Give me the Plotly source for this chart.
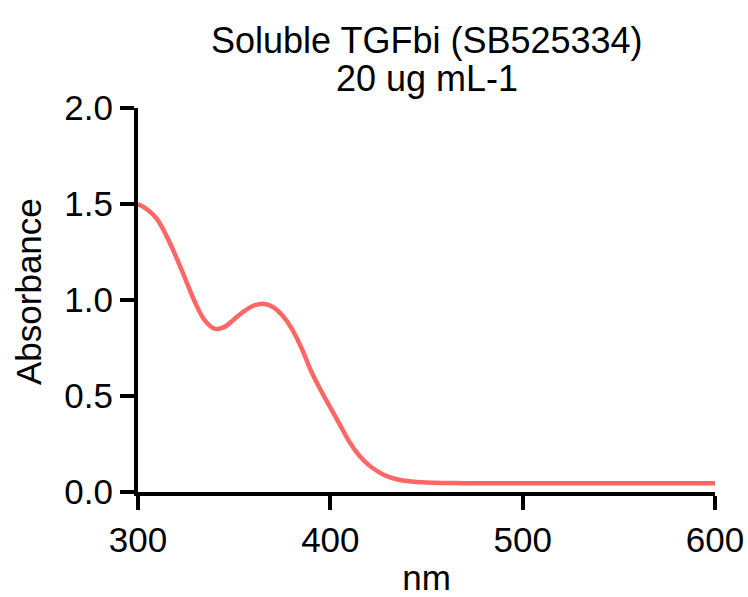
import plotly.graph_objects as go

# absorbance spectrum
wavelength = [300, 305, 310, 315, 320, 325, 330, 335, 340, 345, 350, 355, 360, 365,
              370, 375, 380, 385, 390, 395, 400, 405, 410, 415, 420, 425, 430, 435,
              440, 445, 450, 460, 470, 480, 490, 500, 510, 520, 530, 540, 550, 560,
              570, 580, 590, 600]
absorbance = [1.50, 1.47, 1.42, 1.33, 1.22, 1.10, 0.98, 0.89, 0.85, 0.86, 0.90, 0.94,
              0.97, 0.98, 0.965, 0.92, 0.85, 0.75, 0.63, 0.53, 0.44, 0.35, 0.26, 0.19,
              0.14, 0.105, 0.08, 0.065, 0.057, 0.052, 0.049, 0.047, 0.046, 0.046,
              0.045, 0.045, 0.045, 0.045, 0.045, 0.045, 0.045, 0.045, 0.045, 0.045,
              0.045, 0.045]

x_ticks = [300, 400, 500, 600]
y_ticks = [0.0, 0.5, 1.0, 1.5, 2.0]

font = "Liberation Sans, Arial, sans-serif"

W, H = 748, 597
left, right, top, bottom = 138, 33, 108, 105
plot_w = W - left - right
plot_h = H - top - bottom


def py(y_px):
    # pixel row from the top of the page -> paper y
    return 1 + (top - y_px) / plot_h


def px(x_px):
    return (x_px - left) / plot_w


fig = go.Figure(go.Scatter(x=wavelength, y=absorbance, mode="lines",
                           line=dict(color="#FF6666", width=4.5, shape="spline"),
                           cliponaxis=False))

fig.update_layout(
    width=W, height=H,
    margin=dict(l=left, r=right, t=top, b=bottom),
    plot_bgcolor="white", paper_bgcolor="white",
    showlegend=False,
    font=dict(family=font, size=35, color="black"),
    annotations=[
        dict(text="Soluble TGFbi (SB525334)", x=0.5, y=py(40),
             xref="paper", yref="paper", showarrow=False, yanchor="middle",
             font=dict(size=36)),
        dict(text="20 ug mL-1", x=0.5, y=py(78),
             xref="paper", yref="paper", showarrow=False, yanchor="middle",
             font=dict(size=36)),
        dict(text="Absorbance", x=px(28), y=py(292), textangle=-90,
             xref="paper", yref="paper", showarrow=False,
             xanchor="center", yanchor="middle", font=dict(size=35)),
    ],
)

fig.update_xaxes(range=[300, 600], tickvals=x_ticks, ticktext=[str(t) for t in x_ticks],
                 showline=True, linecolor="black", linewidth=4,
                 ticks="outside", ticklen=14, tickwidth=4, tickcolor="black",
                 showgrid=False, zeroline=False, automargin=False,
                 tickfont=dict(size=35),
                 title=dict(text="nm", standoff=22, font=dict(size=35)))
fig.update_yaxes(range=[0, 2], tickvals=y_ticks, ticktext=[f"{t:.1f}" for t in y_ticks],
                 showline=True, linecolor="black", linewidth=4,
                 ticks="outside", ticklen=14, tickwidth=4, tickcolor="black",
                 showgrid=False, zeroline=False, automargin=False,
                 tickfont=dict(size=35))

# drop the default 8px page margin so the figure fills the window
fig.write_html("out.html", config={"displayModeBar": False},
               post_script="document.body.style.margin='0';")
